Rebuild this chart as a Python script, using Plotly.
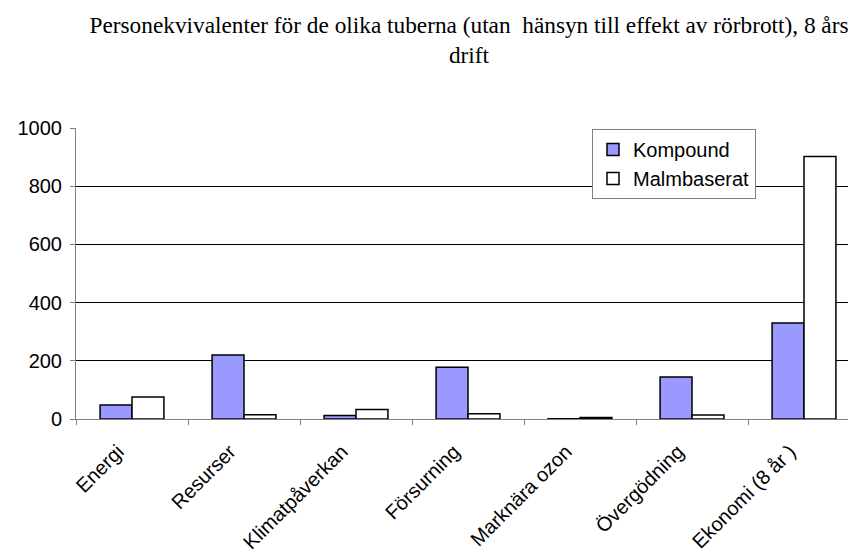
import plotly.graph_objects as go

categories = ["Energi", "Resurser", "Klimatpåverkan", "Försurning", "Marknära ozon", "Övergödning", "Ekonomi (8 år )"]
kompound = [48, 220, 12, 178, 1, 144, 330]
malmbaserat = [76, 15, 33, 18, 5, 14, 902]
y_ticks = [0, 200, 400, 600, 800, 1000]

# page body adds an 8px offset; figure drawn so that plot area lands at x 76..856, y 128..419
W, H = 848, 547
L, T = 68, 120
PW, PH = 780, 291
B = H - T - PH

fig = go.Figure()
fig.add_trace(go.Bar(x=categories, y=kompound, name="Kompound",
                     marker=dict(color="#9999FF", line=dict(color="black", width=1.5))))
fig.add_trace(go.Bar(x=categories, y=malmbaserat, name="Malmbaserat",
                     marker=dict(color="white", line=dict(color="black", width=1.5))))

fig.update_layout(
    width=W, height=H,
    margin=dict(l=L, r=0, t=T, b=B, pad=0, autoexpand=False),
    paper_bgcolor="white", plot_bgcolor="white",
    barmode="group", bargap=0.43, bargroupgap=0,
    font=dict(family="Arial, Liberation Sans", size=20, color="black"),
    title=dict(text="Personekvivalenter för de olika tuberna (utan  hänsyn till effekt av rörbrott), 8 års<br>drift",
               font=dict(family="Liberation Serif, Times New Roman", size=23.3, color="black"),
               x=(469 - 8) / W, xref="container", xanchor="center",
               y=1 - (33 - 8) / H, yref="container", yanchor="top"),
    legend=dict(x=(592 - 76) / PW, y=(419 - 129) / PH, xanchor="left", yanchor="top",
                bordercolor="#808080", borderwidth=1, bgcolor="white",
                font=dict(size=20), tracegroupgap=0, itemwidth=30),
    showlegend=True,
)
fig.update_xaxes(range=[-0.5, -0.5 + PW / 112], tickson="boundaries", ticks="outside", ticklen=5,
                 tickcolor="#808080", showline=True, linecolor="#808080", linewidth=1,
                 tickangle=-45, ticklabelstandoff=12, ticklabelshift=-14,
                 showgrid=False, automargin=False)
fig.update_yaxes(range=[0, 1000], tickvals=y_ticks, ticks="outside", ticklen=5, tickcolor="#808080",
                 showline=True, linecolor="#808080", linewidth=1, showgrid=True, gridcolor="black",
                 gridwidth=1, zeroline=False, ticklabelstandoff=4, automargin=False)

fig.write_html("out.html")
